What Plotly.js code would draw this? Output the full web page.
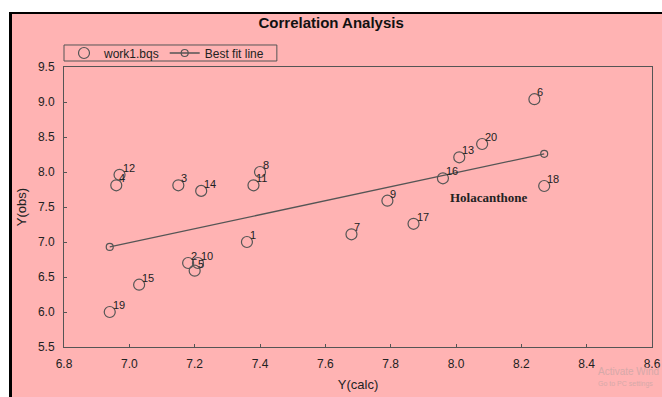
<!DOCTYPE html>
<html>
<head>
<meta charset="utf-8">
<script src="https://cdn.plot.ly/plotly-3.0.1.min.js"></script>
<style>
  html, body { margin: 0; padding: 0; background: #ffffff; width: 662px; height: 397px; overflow: hidden; }
  #frame { position: absolute; left: 9px; top: 12px; border-left: 3px solid #000; border-top: 2px solid #000; }
  #chart { width: 650px; height: 383px; }
</style>
</head>
<body>
<div id="frame"><div id="chart"></div></div>
<script>
// Observed points: Y(calc) vs Y(obs), labelled by compound number
const pointLabels = ["1","2","3","4","5","6","7","8","9","10","11","12","13","14","15","16","17","18","19","20"];
const yCalc = [7.36, 7.18, 7.15, 6.96, 7.20, 8.24, 7.68, 7.40, 7.79, 7.21, 7.38, 6.97, 8.01, 7.22, 7.03, 7.96, 7.87, 8.27, 6.94, 8.08];
const yObs  = [7.00, 6.70, 7.81, 7.81, 6.59, 9.04, 7.11, 8.00, 7.59, 6.70, 7.81, 7.96, 8.21, 7.73, 6.39, 7.91, 7.26, 7.80, 6.00, 8.40];

// Best fit line end points
const fitX = [6.94, 8.27];
const fitY = [6.93, 8.26];

const xTicks = [6.8, 7.0, 7.2, 7.4, 7.6, 7.8, 8.0, 8.2, 8.4, 8.6];
const yTicks = [5.5, 6.0, 6.5, 7.0, 7.5, 8.0, 8.5, 9.0, 9.5];

const font = "Liberation Sans, Arial, sans-serif";
const ink = "#555555";
const pink = "#FFB3B3";

const traces = [
  {
    type: "scatter",
    mode: "markers",
    name: "work1.bqs",
    x: yCalc, y: yObs,
    marker: { symbol: "circle-open", size: 11, color: ink, line: { width: 1.2, color: ink } }
  },
  {
    type: "scatter",
    mode: "lines+markers",
    name: "Best fit line",
    x: fitX, y: fitY,
    line: { color: ink, width: 1.3 },
    marker: { symbol: "circle-open", size: 7, color: ink, line: { width: 1.2, color: ink } }
  }
];

const labelAnnotations = pointLabels.map((t, i) => ({
  text: t,
  x: yCalc[i], y: yObs[i], xref: "x", yref: "y",
  xanchor: "left", yanchor: "bottom",
  xshift: 1, yshift: -1,
  showarrow: false,
  font: { family: font, size: 11, color: "#222222" }
}));

const layout = {
  width: 650, height: 383,
  margin: { l: 52, r: 10, t: 53, b: 50 },
  paper_bgcolor: pink,
  plot_bgcolor: pink,
  font: { family: font, color: "#222222" },
  title: {
    text: "<b>Correlation Analysis</b>",
    font: { family: font, size: 15, color: "#111111" },
    x: 0.491, xref: "container", xanchor: "center",
    y: 0.978, yref: "container", yanchor: "middle"
  },
  showlegend: true,
  legend: {
    orientation: "h",
    x: 0, xanchor: "left",
    y: 1.05, yanchor: "middle",
    bgcolor: "rgba(0,0,0,0)",
    borderwidth: 0,
    font: { family: font, size: 12, color: "#222222" },
    itemwidth: 30,
    tracegroupgap: 0
  },
  xaxis: {
    range: [6.8, 8.6],
    tickvals: xTicks,
    ticktext: xTicks.map(v => v.toFixed(1)),
    ticks: "inside", ticklen: 3, tickcolor: ink,
    ticklabelstandoff: 6,
    showline: true, linecolor: ink, linewidth: 1, mirror: true,
    showgrid: false, zeroline: false,
    tickfont: { family: font, size: 12, color: "#222222" },
    title: { text: "Y(calc)", font: { family: font, size: 13, color: "#222222" }, standoff: 9 }
  },
  yaxis: {
    range: [5.5, 9.5],
    tickvals: yTicks,
    ticktext: yTicks.map(v => v.toFixed(1)),
    ticks: "inside", ticklen: 3, tickcolor: ink,
    ticklabelstandoff: 6,
    showline: true, linecolor: ink, linewidth: 1, mirror: true,
    showgrid: false, zeroline: false,
    tickfont: { family: font, size: 12, color: "#222222" },
    title: { text: "Y(obs)", font: { family: font, size: 13, color: "#222222" }, standoff: 8 }
  },
  shapes: [
    {
      type: "rect", xref: "paper", yref: "paper",
      x0: 0, x1: 0.362, y0: 1.0214, y1: 1.0786,
      line: { color: ink, width: 1 }, fillcolor: "rgba(0,0,0,0)"
    }
  ],
  annotations: labelAnnotations.concat([
    {
      text: "<b>Holacanthone</b>",
      x: 8.10, y: 7.64, xref: "x", yref: "y",
      showarrow: false,
      font: { family: "Liberation Serif, Times New Roman, serif", size: 13, color: "#222222" }
    },
    {
      text: "Activate Wind",
      x: 0.905, y: -0.088, xref: "paper", yref: "paper",
      xanchor: "left", yanchor: "middle", showarrow: false,
      font: { family: font, size: 10, color: "#d6a9a9" }
    },
    {
      text: "Go to PC settings",
      x: 0.905, y: -0.132, xref: "paper", yref: "paper",
      xanchor: "left", yanchor: "middle", showarrow: false,
      font: { family: font, size: 7, color: "#d6a9a9" }
    }
  ])
};

Plotly.newPlot("chart", traces, layout, { displayModeBar: false, staticPlot: true });
</script>
</body>
</html>
